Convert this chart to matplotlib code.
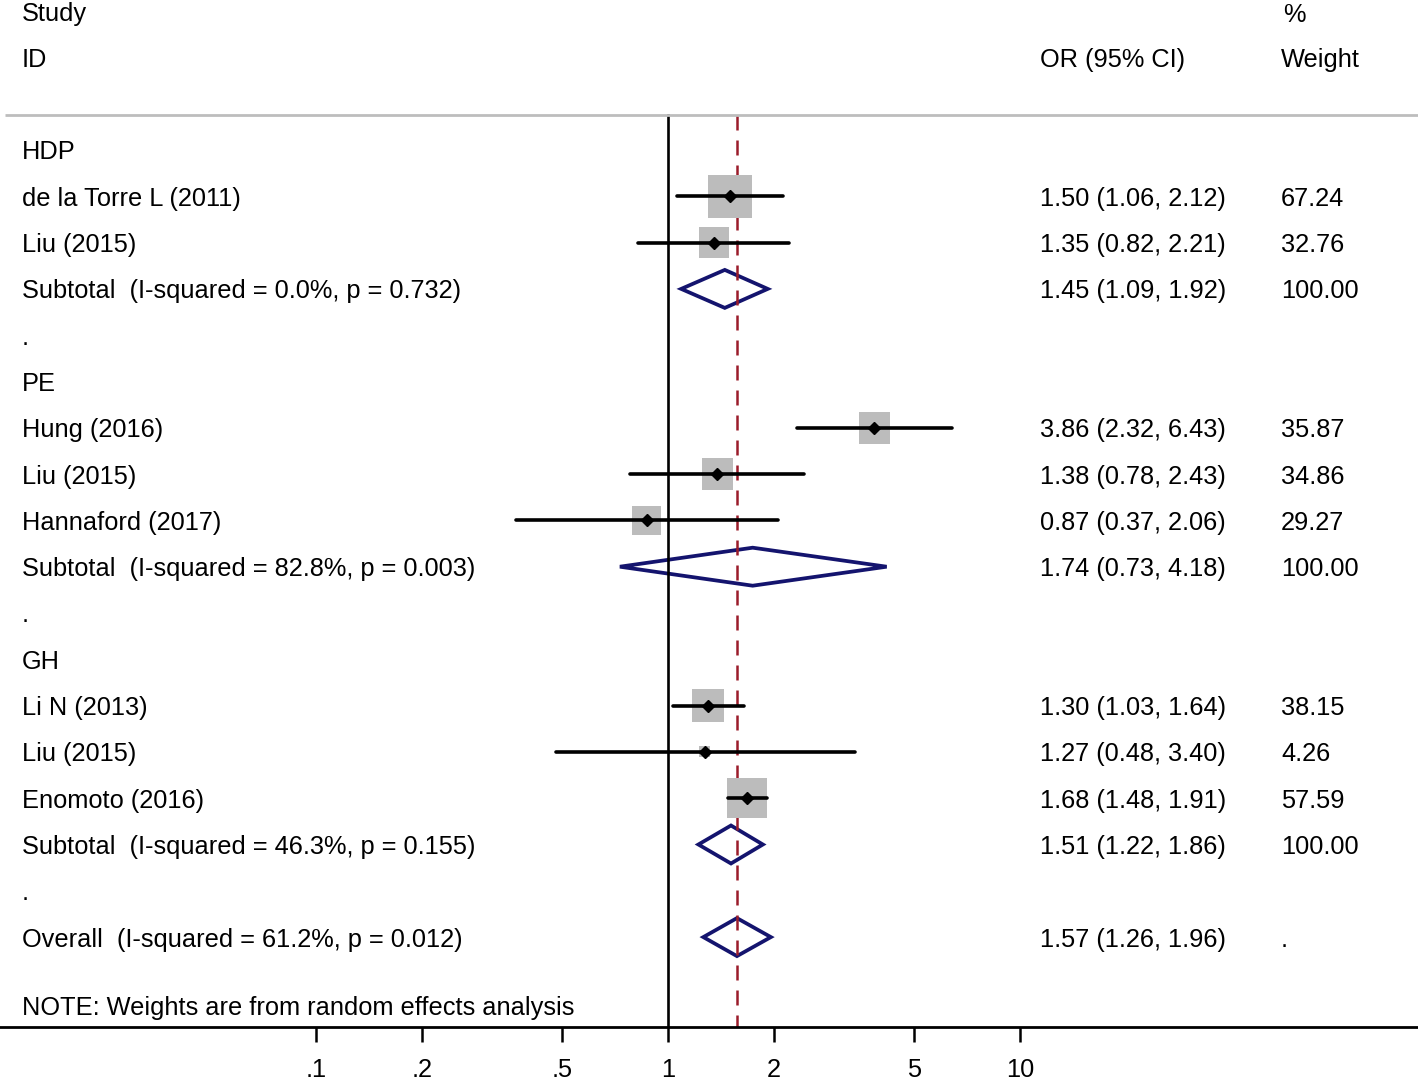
import matplotlib
matplotlib.use("Agg")
import matplotlib.pyplot as plt
from matplotlib.patches import Polygon
import numpy as np

plt.rcParams['font.family'] = ['Liberation Sans', 'DejaVu Sans']

# ---- data ----
groups = ["HDP", "PE", "GH"]
study_labels = [
    ["de la Torre L (2011)", "Liu (2015)"],
    ["Hung (2016)", "Liu (2015)", "Hannaford (2017)"],
    ["Li N (2013)", "Liu (2015)", "Enomoto (2016)"],
]
study_or = [[1.50, 1.35], [3.86, 1.38, 0.87], [1.30, 1.27, 1.68]]
study_lo = [[1.06, 0.82], [2.32, 0.78, 0.37], [1.03, 0.48, 1.48]]
study_hi = [[2.12, 2.21], [6.43, 2.43, 2.06], [1.64, 3.40, 1.91]]
study_w = [[67.24, 32.76], [35.87, 34.86, 29.27], [38.15, 4.26, 57.59]]

sub_labels = ["Subtotal  (I-squared = 0.0%, p = 0.732)",
              "Subtotal  (I-squared = 82.8%, p = 0.003)",
              "Subtotal  (I-squared = 46.3%, p = 0.155)"]
sub_or = [1.45, 1.74, 1.51]
sub_lo = [1.09, 0.73, 1.22]
sub_hi = [1.92, 4.18, 1.86]
sub_w = [100.00, 100.00, 100.00]

overall_label = "Overall  (I-squared = 61.2%, p = 0.012)"
overall_or = 1.57
overall_lo = 1.26
overall_hi = 1.96

note = "NOTE: Weights are from random effects analysis"
xticks = [0.1, 0.2, 0.5, 1, 2, 5, 10]
xtick_labels = [".1", ".2", ".5", "1", "2", "5", "10"]

# ---- layout ----
W, H = 1418, 1080
fig = plt.figure(figsize=(W / 100, H / 100), dpi=100)
axis_py = 1027
ax = fig.add_axes([0, (H - axis_py) / H, 1, axis_py / H])
ax.set_xscale('log')
x0, ppd = 668.0, 352.0  # pixel of OR=1, pixels per decade
ax.set_xlim(10 ** (-x0 / ppd), 10 ** ((W - x0) / ppd))
row0, dy = 150.0, 46.3
def py2y(py):
    return (py - row0) / dy
ax.set_ylim(py2y(axis_py), py2y(0))

FS = 18.3

for s in ['top', 'left', 'right']:
    ax.spines[s].set_visible(False)
ax.spines['bottom'].set_linewidth(2.0)
ax.set_yticks([])
ax.set_xticks(xticks)
ax.set_xticklabels(xtick_labels)
ax.xaxis.set_minor_locator(matplotlib.ticker.NullLocator())
ax.tick_params(axis='x', direction='out', length=11, width=1.8, labelsize=FS, pad=11)

txt_x = 22
or_x = 1040
w_x = 1281
fx = lambda px: px / W  # axes-fraction x

def ltext(px, y, s, **kw):
    ax.text(fx(px), y, s, transform=ax.get_yaxis_transform(), ha='left',
            va='center_baseline', fontsize=FS, **kw)

# headers
ltext(txt_x, py2y(12), "Study")
ltext(txt_x, py2y(58), "ID")
ltext(or_x, py2y(58), "OR (95% CI)")
ltext(w_x + 2, py2y(12), "%")
ltext(w_x, py2y(58), "Weight")

sep_y = py2y(115)
ax.plot([fx(5), 1], [sep_y, sep_y], transform=ax.get_yaxis_transform(),
        color='#bdbdbd', lw=2.0, solid_capstyle='butt')

navy = '#14146e'
def diamond(y, est, lo, hi):
    h = 19 / dy
    poly = Polygon([(lo, y), (est, y - h), (hi, y), (est, y + h)], closed=True,
                   fill=False, edgecolor=navy, lw=2.7, joinstyle='miter')
    ax.add_patch(poly)

row = 0
for g in range(len(groups)):
    ltext(txt_x, row, groups[g])
    row += 1
    for k in range(len(study_labels[g])):
        est, lo, hi, w = study_or[g][k], study_lo[g][k], study_hi[g][k], study_w[g][k]
        side = 5.3 * np.sqrt(w) * 0.72
        ax.scatter([est], [row], marker='s', s=side ** 2, color='#bcbcbc',
                   edgecolors='none', zorder=2)
        ax.plot([lo, hi], [row, row], color='black', lw=2.6, zorder=3,
                solid_capstyle='round')
        ax.plot([est], [row], marker='D', color='black', markersize=6.5, zorder=4)
        ltext(txt_x, row, study_labels[g][k])
        ltext(or_x, row, f"{est:.2f} ({lo:.2f}, {hi:.2f})")
        ltext(w_x, row, f"{w:.2f}")
        row += 1
    diamond(row, sub_or[g], sub_lo[g], sub_hi[g])
    ltext(txt_x, row, sub_labels[g])
    ltext(or_x, row, f"{sub_or[g]:.2f} ({sub_lo[g]:.2f}, {sub_hi[g]:.2f})")
    ltext(w_x, row, f"{sub_w[g]:.2f}")
    row += 1
    ltext(txt_x, row, ".")
    row += 1

diamond(row, overall_or, overall_lo, overall_hi)
ltext(txt_x, row, overall_label)
ltext(or_x, row, f"{overall_or:.2f} ({overall_lo:.2f}, {overall_hi:.2f})")
ltext(w_x, row, ".")

ltext(txt_x, py2y(1006), note)

# reference lines
ytop, ybot = sep_y, py2y(axis_py)
ax.plot([1, 1], [ytop, ybot], color='black', lw=1.9, zorder=1)
ax.plot([overall_or, overall_or], [ytop, ybot], color='#9b1c2a', lw=1.8,
        dashes=(6, 4), zorder=1)

fig.savefig("out.png", dpi=100)
